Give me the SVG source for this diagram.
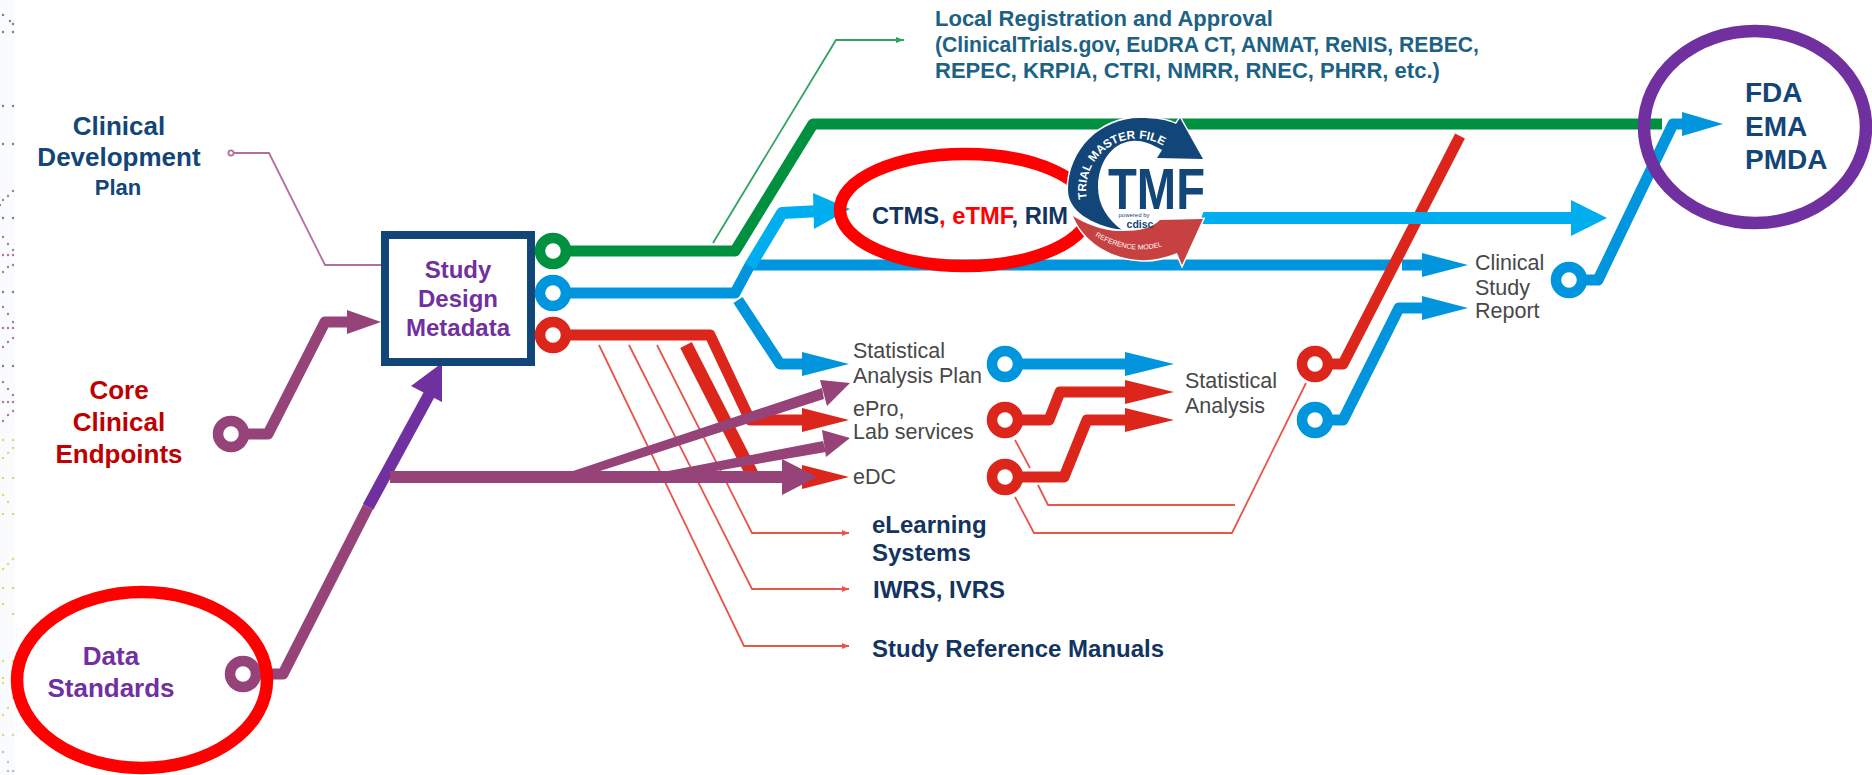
<svg xmlns="http://www.w3.org/2000/svg" width="1872" height="775" viewBox="0 0 1872 775">
<style>
text{font-family:"Liberation Sans",Arial,sans-serif}
.b{font-weight:700}
.l{fill:none;stroke-linejoin:round}
.w11{stroke-width:11}
.thin{fill:none;stroke-width:1.8}
.g{stroke:#009140}.bl{stroke:#0095DD}.lb{stroke:#00AEEF}.r{stroke:#DC261B}.m{stroke:#964379}.p{stroke:#7030A0}
.fbl{fill:#0095DD}.flb{fill:#00AEEF}.fr{fill:#DC261B}.fm{fill:#964379}.fp{fill:#7030A0}
.ring{fill:#fff;stroke-width:10.5}
.oval{fill:none;stroke-width:12.5}
.grey{fill:#484848;font-size:21.5px}
.navy{fill:#12345F;font-size:24px;font-weight:700}
.dk{fill:#134678;font-weight:700}
.pur{fill:#7030A0;font-weight:700}
.dots{fill:none;stroke-width:2.4;stroke-linecap:round;opacity:.8}
</style>
<defs>
<marker id="rh" markerUnits="userSpaceOnUse" markerWidth="8" markerHeight="8" refX="7" refY="3" orient="auto"><path d="M0 0L7 3L0 6Z" fill="#E8554B"/></marker>
<marker id="gh" markerUnits="userSpaceOnUse" markerWidth="10" markerHeight="8" refX="8" refY="3" orient="auto"><path d="M0 0L8 3L0 6Z" fill="#2FA363"/></marker>
</defs>
<rect width="1872" height="775" fill="#fff"/>
<g id="edge-dots">
<rect x="0" y="0" width="15" height="775" fill="#F9FBFC"/>
<path class="dots" stroke="#4A6A85" d="M3 15h0M10 21h0M13 24h0M3 32h0M13 32h0M3 106h0M13 106h0M3 144h0M13 144h0M3 218h0M13 218h0M3 292h0M13 292h0M3 366h0M13 366h0"/>
<path class="dots" stroke="#9C5B74" d="M13 191h0M8 196h0M3 200h0M0 205h0M3 237h0M8 244h0M13 250h0M3 255h0M8 255h0M13 255h0M13 265h0M8 267h0M3 272h0M3 307h0M8 314h0M13 322h0M3 328h0M8 328h0M13 328h0M13 338h0M8 342h0M3 347h0M3 382h0M8 389h0M13 395h0M3 402h0M8 402h0M13 402h0M13 411h0M8 415h0M3 421h0"/>
<path class="dots" stroke="#D9CE5E" d="M3 440h0M13 440h0M13 448h0M8 453h0M3 458h0M3 478h0M13 478h0M3 495h0M8 502h0M3 514h0M13 514h0M13 559h0M8 564h0M3 569h0M3 588h0M13 588h0M3 604h0M13 614h0M3 661h0M13 661h0M3 678h0M3 683h0M13 683h0M13 698h0M8 708h0M3 715h0M3 735h0M13 735h0"/>
<path class="dots" stroke="#8DBCC4" d="M3 752h0M8 762h0M8 771h0M13 771h0"/>
</g>
<g id="connectors">
<path class="thin" stroke="#B56E9B" d="M234 153H269L325 265H381"/>
<circle cx="231" cy="153" r="2.6" fill="#fff" stroke="#B56E9B" stroke-width="1.8"/>
<path class="thin" stroke="#2FA363" d="M713 243L836 40H904" marker-end="url(#gh)"/>
<g stroke="#E8554B">
<path class="thin" d="M599 345L744 646H849" marker-end="url(#rh)"/>
<path class="thin" d="M629 345L752 589H849" marker-end="url(#rh)"/>
<path class="thin" d="M657 345L752 533H849" marker-end="url(#rh)"/>
<path class="thin" d="M1015 440L1030 468M1038 485L1048 505H1235"/>
<path class="thin" d="M1015 497L1034 533H1232L1306 383"/>
</g>
<path class="l w11 g" d="M553 251H735L813 124H1662"/>
<path class="l w11 bl" d="M553 293H735L750 265H1430"/>
<polygon class="fbl" points="1422,253 1468,265 1422,277"/>
<path class="l w11 bl" d="M738 300L780 364H810"/>
<polygon class="fbl" points="802,352 849,364 802,376"/>
<path class="l" stroke="#00AEEF" stroke-width="12" d="M750 266L782 213L820 211"/>
<polygon class="flb" points="813,193 850,209 814,229"/>
<path class="l w11 r" d="M553 335H710L750 420H810"/>
<polygon class="fr" points="802,408 849,420 802,432"/>
<path class="l r" stroke-width="13" d="M686 345L752 474"/>
<polygon class="fr" points="802,465 849,477 802,489"/>
<path class="l w11 m" d="M243 674H283L368 507"/>
<path class="l w11 m" d="M231 434H268L325 322H355"/>
<polygon class="fm" points="347,310 381,322 347,334"/>
<path class="l p" stroke-width="12" d="M368 507L430 393"/>
<polygon class="fp" points="411,386 442,363 442,402"/>
<path class="l m" stroke-width="12" d="M390 477H790"/>
<polygon class="fm" points="782,459 817,477 782,495"/>
<polygon class="fm" points="570,472 822,388 824,399 597,472"/>
<polygon class="fm" points="820,380 850,383 827,406"/>
<polygon class="fm" points="663,472 823,441 826,452 710,472"/>
<polygon class="fm" points="822,430 850,438 826,457"/>
<path class="l w11 bl" d="M1005 364H1130"/>
<polygon class="fbl" points="1125,352 1174,364 1125,376"/>
<path class="l w11 r" d="M1005 420H1049L1060 392H1130"/>
<polygon class="fr" points="1125,380 1174,392 1125,404"/>
<path class="l w11 r" d="M1005 477H1064L1087 420H1130"/>
<polygon class="fr" points="1125,408 1174,420 1125,432"/>
<rect x="1394" y="258" width="8" height="14" fill="#fff"/>
<path class="l w11 r" d="M1315 364H1343L1460 136"/>
<path class="l w11 bl" d="M1315 420H1343L1399 308H1430"/>
<polygon class="fbl" points="1422,296 1468,308 1422,320"/>
<path class="l w11 bl" d="M1569 280H1598L1673 124H1690"/>
<polygon class="fbl" points="1682,112 1723,124 1682,136"/>
<path class="l" stroke="#00AEEF" stroke-width="12" d="M1200 218H1575"/>
<polygon class="flb" points="1571,200 1607,218 1571,236"/>
</g>
<g id="node-ctms">
<ellipse class="oval" cx="965" cy="210" rx="125" ry="56" stroke="#FF0000"/>
</g>
<g id="node-tmf-logo">
<circle cx="1137" cy="190" r="70" fill="#fff"/>
<path fill="#134678" stroke="#fff" stroke-width="3" paint-order="stroke" d="M1122 230C1090 225 1068 210 1068 190C1068 150 1100 118 1140 118C1155 118 1168 120 1176 124L1180 118L1203 159L1157 158L1162 150C1150 143 1140 140 1132 141C1110 143 1098 165 1098 187C1098 205 1108 220 1122 230Z"/>
<path fill="#C84141" stroke="#fff" stroke-width="3" paint-order="stroke" d="M1073 216C1085 224 1105 232 1123 231C1140 231 1152 228 1160 220L1203 219L1182 265L1177 253C1165 258 1150 261 1140 260C1115 259 1085 245 1073 216Z"/>
<path id="tmfTop" fill="none" d="M1087 199A51 51 0 0 1 1165 147"/>
<path id="tmfBot" fill="none" d="M1095 236Q1132 258 1169 244"/>
<text font-size="11.8" fill="#fff" class="b"><textPath href="#tmfTop">TRIAL MASTER FILE</textPath></text>
<text font-size="7" fill="#fff"><textPath href="#tmfBot">REFERENCE MODEL</textPath></text>
<text x="1108" y="209" font-size="57" class="b" fill="#134678" textLength="97" lengthAdjust="spacingAndGlyphs">TMF</text>
<text x="1134" y="217" font-size="6" fill="#134678" text-anchor="middle">powered by</text>
<text x="1140" y="228" font-size="10.5" class="b" fill="#134678" text-anchor="middle">cdisc</text>
</g>
<g id="node-ctms-label">
<text x="872" y="224" font-size="23.7" class="b"><tspan fill="#12345F">CTMS</tspan><tspan fill="#FF0000">, eTMF</tspan><tspan fill="#12345F">, RIM</tspan></text>
</g>
<g id="node-clinical-development-plan" text-anchor="middle">
<text x="119" y="135" font-size="26" class="dk">Clinical</text>
<text x="119" y="166" font-size="26" class="dk">Development</text>
<text x="118" y="195" font-size="22" class="dk">Plan</text>
</g>
<g id="node-core-clinical-endpoints" text-anchor="middle" fill="#C00000" font-size="26" font-weight="700">
<text x="119" y="399">Core</text>
<text x="119" y="431">Clinical</text>
<text x="119" y="463">Endpoints</text>
</g>
<g id="node-core-ring"><circle class="ring m" cx="231" cy="434" r="13"/></g>
<g id="node-data-ring"><circle class="ring m" cx="243" cy="674" r="13"/></g>
<g id="node-data-standards" text-anchor="middle">
<ellipse class="oval" cx="142" cy="680" rx="125" ry="88" stroke="#FF0000"/>
<text x="111" y="665" font-size="26" class="pur">Data</text>
<text x="111" y="697" font-size="26" class="pur">Standards</text>
</g>
<g id="node-study-design-metadata" text-anchor="middle">
<rect x="385" y="235" width="146" height="127" fill="#fff" stroke="#134678" stroke-width="8"/>
<text x="458" y="278" font-size="24" class="pur">Study</text>
<text x="458" y="307" font-size="24" class="pur">Design</text>
<text x="458" y="336" font-size="24" class="pur">Metadata</text>
</g>
<g id="node-outputs">
<circle class="ring g" cx="553" cy="251" r="13"/>
<circle class="ring bl" cx="553" cy="293" r="13"/>
<circle class="ring r" cx="553" cy="335" r="13"/>
</g>
<g id="node-local-registration" fill="#1C6284" font-size="22" font-weight="700">
<text x="935" y="26">Local Registration and Approval</text>
<text x="935" y="52" textLength="544" lengthAdjust="spacingAndGlyphs">(ClinicalTrials.gov, EuDRA CT, ANMAT, ReNIS, REBEC,</text>
<text x="935" y="78">REPEC, KRPIA, CTRI, NMRR, RNEC, PHRR, etc.)</text>
</g>
<g id="node-sap"><text class="grey" x="853" y="358">Statistical</text><text class="grey" x="853" y="383">Analysis Plan</text>
<circle class="ring bl" cx="1005" cy="364" r="13"/></g>
<g id="node-epro"><text class="grey" x="853" y="416">ePro,</text><text class="grey" x="853" y="439">Lab services</text>
<circle class="ring r" cx="1005" cy="420" r="13"/></g>
<g id="node-edc"><text class="grey" x="853" y="484">eDC</text>
<circle class="ring r" cx="1005" cy="477" r="13"/></g>
<g id="node-elearning"><text class="navy" x="872" y="533">eLearning</text><text class="navy" x="872" y="561">Systems</text></g>
<g id="node-iwrs"><text class="navy" x="873" y="598">IWRS, IVRS</text></g>
<g id="node-manuals"><text class="navy" x="872" y="657">Study Reference Manuals</text></g>
<g id="node-statistical-analysis"><text class="grey" x="1185" y="388">Statistical</text><text class="grey" x="1185" y="413">Analysis</text>
<circle class="ring r" cx="1315" cy="364" r="13"/><circle class="ring bl" cx="1315" cy="420" r="13"/></g>
<g id="node-csr"><text class="grey" x="1475" y="270">Clinical</text><text class="grey" x="1475" y="295">Study</text><text class="grey" x="1475" y="318">Report</text>
<circle class="ring bl" cx="1569" cy="280" r="13"/></g>
<g id="node-regulators">
<ellipse class="oval" cx="1755" cy="127" rx="111" ry="96" stroke="#7030A0"/>
<text x="1745" y="102" font-size="28" class="dk">FDA</text>
<text x="1745" y="136" font-size="28" class="dk">EMA</text>
<text x="1745" y="169" font-size="28" class="dk">PMDA</text>
</g>
</svg>
